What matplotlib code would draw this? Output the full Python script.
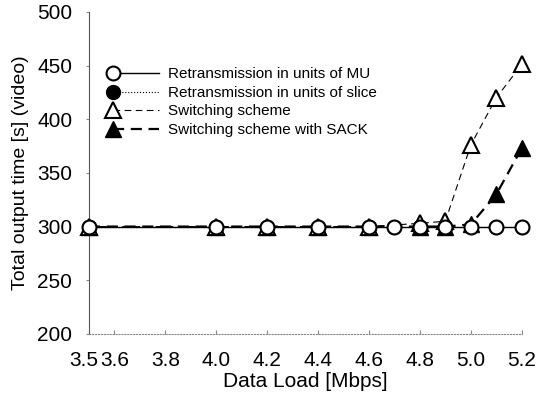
import numpy as np
import matplotlib
matplotlib.use('Agg')
import matplotlib.pyplot as plt
from matplotlib.legend_handler import HandlerLine2DCompound
from matplotlib.transforms import ScaledTranslation

# Data
load_mu = [3.5, 4.0, 4.2, 4.4, 4.6, 4.7, 4.8, 4.9, 5.0, 5.1, 5.2]
time_mu = [300, 300, 300, 300, 300, 300, 300, 300, 300, 300, 300]

load_slice = [3.5, 4.0, 4.2, 4.4, 4.6, 4.7, 4.8, 4.9, 5.0, 5.1, 5.2]
time_slice = [300, 300, 300, 300, 300, 300, 300, 300, 300, 300, 300]

load_sw = [3.5, 4.0, 4.2, 4.4, 4.6, 4.8, 4.9, 5.0, 5.1, 5.2]
time_sw = [300, 300, 300, 300, 300, 303, 305, 376, 420, 451]

load_sack = [3.5, 4.0, 4.2, 4.4, 4.6, 4.8, 4.9, 5.0, 5.1, 5.2]
time_sack = [300, 300, 300, 300, 300, 300, 300, 302, 330, 373]

x_ticks = [3.5, 3.6, 3.8, 4.0, 4.2, 4.4, 4.6, 4.8, 5.0, 5.2]
y_ticks = [200, 250, 300, 350, 400, 450, 500]

labels = ['Retransmission in units of MU',
          'Retransmission in units of slice',
          'Switching scheme',
          'Switching scheme with SACK']


class MarkerLeft(HandlerLine2DCompound):
    # put the legend marker at the left end of the handle line
    def get_xdata(self, legend, xdescent, ydescent, width, height, fontsize):
        xdata = [-xdescent, -xdescent + width]
        return xdata, [-xdescent]


plt.rcParams['font.family'] = ['Liberation Sans', 'DejaVu Sans']

fig = plt.figure(figsize=(5.39, 3.97), dpi=100)
ax = fig.add_axes([0.165, 0.159, 0.803, 0.811])

ax.plot(load_slice, time_slice, c='black', lw=0.8, ls=':', marker='o',
        ms=10, mfc='black', mec='black', zorder=2, clip_on=False, label=labels[1])
ax.plot(load_sack, time_sack, c='black', lw=1.6, ls=(0, (5, 3)), marker='^',
        ms=11, mfc='black', mec='black', zorder=3, clip_on=False, label=labels[3])
ax.plot(load_sw, time_sw, c='black', lw=0.8, ls=(0, (6, 4)), marker='^',
        ms=11, mfc='white', mec='black', mew=1.5, zorder=4, clip_on=False,
        label=labels[2])
ax.plot(load_mu, time_mu, c='black', lw=1.0, marker='o',
        ms=10, mfc='white', mec='black', mew=1.5, zorder=5, clip_on=False,
        label=labels[0])

ax.set_xlim(3.5, 5.2)
ax.set_ylim(200, 500)
ax.set_xticks(x_ticks)
ax.set_xticklabels(['%.1f' % t for t in x_ticks])
ax.set_yticks(y_ticks)

ax.spines['top'].set_visible(False)
ax.spines['right'].set_visible(False)
ax.spines['left'].set_color('#555555')
ax.spines['left'].set_linewidth(0.8)
ax.spines['bottom'].set_color('#888888')
ax.spines['bottom'].set_linestyle(':')
ax.tick_params(axis='x', direction='in', length=3, color='#888888', labelsize=15, pad=12)
ax.tick_params(axis='y', direction='out', length=2, color='#888888', labelsize=15, pad=10)

# the first two x labels sit side by side in the original
first = ax.xaxis.get_major_ticks()[0].label1
first.set_transform(first.get_transform() + ScaledTranslation(-5 / 100, 0, fig.dpi_scale_trans))

ax.set_xlabel('Data Load [Mbps]', fontsize=15, labelpad=2)
ax.set_ylabel('Total output time [s] (video)', fontsize=14, labelpad=6)

h, l = ax.get_legend_handles_labels()
hmap = dict(zip(l, h))
leg = ax.legend([hmap[s] for s in labels], labels, loc='upper left',
                bbox_to_anchor=(0.055, 0.828), frameon=False, fontsize=11,
                handlelength=3.0, handletextpad=0.6, labelspacing=0.3,
                borderaxespad=0, borderpad=0,
                handler_map={plt.Line2D: MarkerLeft()})

fig.savefig('out.png', dpi=100)
